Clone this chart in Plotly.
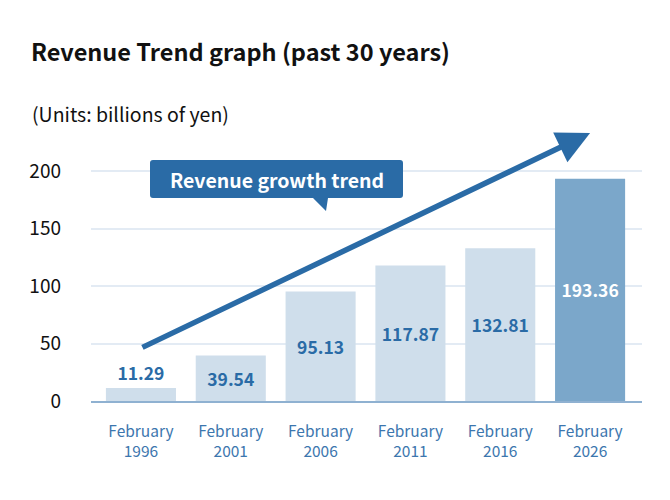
import plotly.graph_objects as go

# ---------------- data ----------------
categories = ["February<br>1996", "February<br>2001", "February<br>2006",
              "February<br>2011", "February<br>2016", "February<br>2026"]
revenue = [11.29, 39.54, 95.13, 117.87, 132.81, 193.36]
value_labels = ["11.29", "39.54", "95.13", "117.87", "132.81", "193.36"]
y_ticks = [0, 50, 100, 150, 200]
trend_start = 46    # arrow start level (billions of yen)
trend_end = 233     # arrow end level
title_text = "Revenue Trend graph (past 30 years)"
units_text = "(Units: billions of yen)"
callout_text = "Revenue growth trend"

# ---------------- styles ----------------
FONT = "Noto Sans CJK JP"
DARK = "#2a6ba6"
LIGHT_BAR = "#cfdeeb"
HIGHLIGHT_BAR = "#7ba7ca"
TICK_X = "#3c76ae"

OFF = 8  # page body margin
W, H = 670 - OFF, 500 - OFF
# plot area edges in window pixels
L, R, T, B = 91, 642, 125, 401

def pxx(x):
    return (x - L) / (R - L)

def pxy(y):
    return (B - y) / (B - T)

idx = list(range(len(categories)))
colors = [LIGHT_BAR] * (len(categories) - 1) + [HIGHLIGHT_BAR]
text_colors = [DARK] * (len(categories) - 1) + ["white"]
positions = ["outside"] + ["inside"] * (len(categories) - 1)

fig = go.Figure()
fig.add_trace(go.Bar(
    x=idx, y=revenue, width=0.78,
    marker=dict(color=colors, line=dict(width=0)),
    text=value_labels, textposition=positions,
    insidetextanchor="middle", textangle=0, constraintext="none",
    cliponaxis=False,
    textfont=dict(family=FONT, size=17.5, color=text_colors, weight="bold"),
    hoverinfo="skip",
))

fig.update_layout(
    width=W, height=H,
    margin=dict(l=L - OFF, r=W - (R - OFF), t=T - OFF, b=H - (B - OFF), pad=0),
    paper_bgcolor="white", plot_bgcolor="white",
    showlegend=False,
    font=dict(family=FONT),
    xaxis=dict(
        range=[-0.556, 5.578], tickvals=idx, ticktext=categories,
        showgrid=False, zeroline=False, showline=True,
        linecolor="#8fb1d1", linewidth=2, ticks="",
        tickfont=dict(family=FONT, size=15.5, color=TICK_X),
        ticklabelstandoff=15,
    ),
    yaxis=dict(
        range=[0, 240], tickvals=y_ticks, ticktext=[str(v) for v in y_ticks],
        showgrid=True, gridcolor="#e3ebf4", gridwidth=1.5,
        zeroline=False, showline=False, ticks="",
        tickfont=dict(family=FONT, size=19, color="#111111"),
        ticklabelstandoff=29,
    ),
)

# trend arrow
fig.add_annotation(
    x=idx[-1], y=trend_end, ax=idx[0], ay=trend_start,
    xref="x", yref="y", axref="x", ayref="y",
    text="", showarrow=True, arrowhead=2, arrowsize=1.2,
    arrowwidth=5.5, arrowcolor=DARK, standoff=0, startstandoff=0,
)

# callout box with pointer
x0, x1, y0, y1, r = 150, 403, 160, 198, 3
path = (
    f"M {pxx(x0 + r)},{pxy(y0)} L {pxx(x1 - r)},{pxy(y0)} "
    f"Q {pxx(x1)},{pxy(y0)} {pxx(x1)},{pxy(y0 + r)} "
    f"L {pxx(x1)},{pxy(y1 - r)} Q {pxx(x1)},{pxy(y1)} {pxx(x1 - r)},{pxy(y1)} "
    f"L {pxx(328)},{pxy(y1)} L {pxx(326)},{pxy(211)} L {pxx(313)},{pxy(y1)} "
    f"L {pxx(x0 + r)},{pxy(y1)} Q {pxx(x0)},{pxy(y1)} {pxx(x0)},{pxy(y1 - r)} "
    f"L {pxx(x0)},{pxy(y0 + r)} Q {pxx(x0)},{pxy(y0)} {pxx(x0 + r)},{pxy(y0)} Z"
)
fig.add_shape(type="path", path=path, xref="paper", yref="paper",
              fillcolor=DARK, line=dict(width=0), layer="above")
fig.add_annotation(
    x=pxx((x0 + x1) / 2), y=pxy((y0 + y1) / 2), xref="paper", yref="paper",
    text=callout_text, showarrow=False, xanchor="center", yanchor="middle",
    font=dict(family=FONT, size=19.5, color="white", weight="bold"),
)

# title and units
fig.add_annotation(
    x=pxx(29), y=pxy(51), xref="paper", yref="paper",
    text=title_text, showarrow=False, xanchor="left", yanchor="middle",
    font=dict(family=FONT, size=23.5, color="#111111", weight="bold"),
)
fig.add_annotation(
    x=pxx(30), y=pxy(113), xref="paper", yref="paper",
    text=units_text, showarrow=False, xanchor="left", yanchor="middle",
    font=dict(family=FONT, size=19.5, color="#111111"),
)

fig.write_html("out.html")
